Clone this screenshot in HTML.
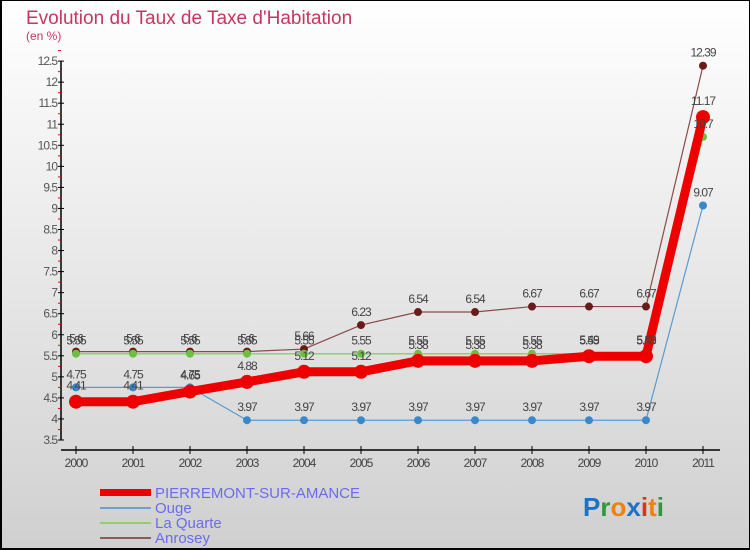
<!DOCTYPE html>
<html><head><meta charset="utf-8"><style>
body{margin:0}
#c{width:750px;height:550px;position:relative;box-sizing:border-box;border:2px solid #000;border-top:1px solid #000;border-right:1px solid #000;background:linear-gradient(#ffffff,#d0d0d0);overflow:hidden;font-family:"Liberation Sans",sans-serif}
</style></head><body>
<div id="c">
<svg id="s" width="750" height="550" style="position:absolute;left:-2px;top:-1px">
<text x="26" y="24" font-size="19" fill="#c8365f">Evolution du Taux de Taxe d'Habitation</text>
<text x="26" y="40" font-size="12" fill="#c8365f">(en %)</text>
<g id="axes"></g><g id="series"></g><g id="labels"></g>
<g>
<rect x="100" y="489" width="51" height="7" fill="#e00"/>
<text x="155" y="498" font-size="15" fill="#6b6bef">PIERREMONT-SUR-AMANCE</text>
<rect x="100" y="507" width="51" height="2" fill="#6fa0c8"/>
<text x="155" y="513" font-size="15" fill="#6b6bef">Ouge</text>
<rect x="100" y="522" width="51" height="2" fill="#90d070"/>
<text x="155" y="528" font-size="15" fill="#6b6bef">La Quarte</text>
<rect x="100" y="537" width="51" height="2" fill="#8b5a5a"/>
<text x="155" y="543" font-size="15" fill="#6b6bef">Anrosey</text>
</g>
<text x="583" y="516" font-size="26" font-family="Liberation Sans" font-weight="bold"><tspan fill="#1a73c8">P</tspan><tspan fill="#2a9a3a">r</tspan><tspan fill="#f08010">o</tspan><tspan fill="#1a73c8">x</tspan><tspan fill="#e03020">i</tspan><tspan fill="#f08010">t</tspan><tspan fill="#2a9a3a">i</tspan></text>
</svg>
</div>
<script>
const years=["2000","2001","2002","2003","2004","2005","2006","2007","2008","2009","2010","2011"];
const yTicks=[3.5,4,4.5,5,5.5,6,6.5,7,7.5,8,8.5,9,9.5,10,10.5,11,11.5,12,12.5];
const pierremont=[4.41,4.41,4.65,4.88,5.12,5.12,5.38,5.38,5.38,5.49,5.49,11.17];
const ouge=[4.75,4.75,4.75,3.97,3.97,3.97,3.97,3.97,3.97,3.97,3.97,9.07];
const laQuarte=[5.55,5.55,5.55,5.55,5.55,5.55,5.55,5.55,5.55,5.55,5.55,10.7];
const anrosey=[5.6,5.6,5.6,5.6,5.66,6.23,6.54,6.54,6.67,6.67,6.67,12.39];
const NS="http://www.w3.org/2000/svg";
function xs(i){return 76+i*57.0;}
function ys(v){return 440-(v-3.5)*42.1;}
function mk(t,a,p){const e=document.createElementNS(NS,t);for(const k in a)e.setAttribute(k,a[k]);p.appendChild(e);return e;}
const ax=document.getElementById('axes');
const yAxis=mk('line',{x1:61,y1:ys(12.5),x2:61,y2:440,stroke:'#000','stroke-width':1.5},ax);


yTicks.forEach(v=>{
 const y=ys(v);
 mk('line',{x1:58,y1:y,x2:64,y2:y,stroke:'#000'},ax);
 mk('line',{x1:58,y1:y-10.5,x2:61,y2:y-10.5,stroke:'#e00'},ax);
 const t=mk('text',{x:57,y:y+4,'font-size':12,'text-anchor':'end',fill:'#555','letter-spacing':'-1'},ax);
 t.textContent=String(v);
 
 
});
const xAxis=mk('line',{x1:61,y1:450,x2:720,y2:450,stroke:'#000','stroke-width':1.5},ax);


years.forEach((yr,i)=>{
 mk('line',{x1:xs(i),y1:446,x2:xs(i),y2:454,stroke:'#000'},ax);
 const t=mk('text',{x:xs(i),y:467,'font-size':12,'text-anchor':'middle',fill:'#444','letter-spacing':'-1'},ax);
 t.textContent=yr;
 
 
});
const sg=document.getElementById('series'),lg=document.getElementById('labels');
function draw(data,name,color,w,r,stroke){
 const g=mk('g',{},sg);
 
 
 const pl=mk('polyline',{points:data.map((v,i)=>xs(i)+','+ys(v)).join(' '),fill:'none',stroke:color,'stroke-width':w,'stroke-linejoin':'round'},g);
 
 
 data.forEach((v,i)=>{
  const c=mk('circle',{cx:xs(i),cy:ys(v),r:r,fill:stroke},g);
  
  
  const t=mk('text',{x:xs(i),y:ys(v)-(r+5),'font-size':12,'text-anchor':'middle',fill:'#444','letter-spacing':'-1'},lg);
  t.textContent=String(v);
  
  
 });
}
draw(anrosey,'anrosey','#8b4a4a',1.2,4,'#6b1a1a');
draw(laQuarte,'la-quarte','#90d070',1.5,4,'#6cc040');
draw(ouge,'ouge','#5a9ad0',1.2,4,'#3a88cc');
draw(pierremont,'pierremont','#ee0000',9,7,'#ee0000');
</script>
</body></html>
